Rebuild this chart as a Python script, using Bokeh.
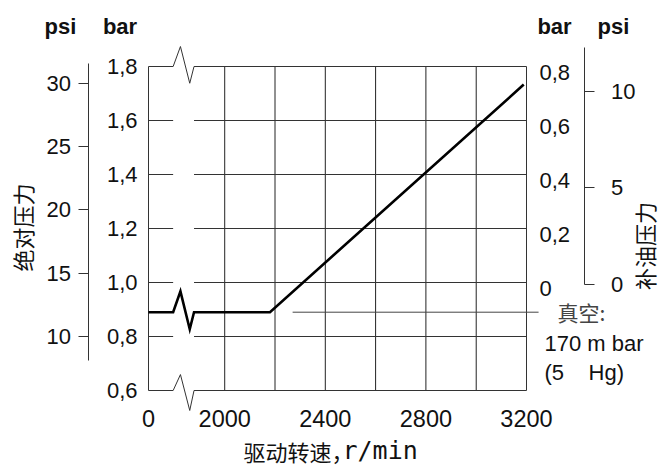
from math import pi
from bokeh.plotting import figure
from bokeh.models import (Range1d, LinearAxis, FixedTicker, Label,
                          CustomJSTickFormatter)
from bokeh.embed import file_html
from bokeh.resources import INLINE

# ---------------- data ----------------
X_ORIGIN = 1697                          # where "0" r/min sits on the broken speed axis
speed_rpm = [0, 2180, 3189]              # drive speed, r/min
abs_pressure_bar = [0.89, 0.89, 1.733]   # absolute pressure, bar

x_ticks = [0, 2000, 2400, 2800, 3200]
x_grid = [2000, 2200, 2400, 2600, 2800, 3000]
bar_ticks_left = [0.6, 0.8, 1.0, 1.2, 1.4, 1.6, 1.8]
bar_grid = [0.8, 1.0, 1.2, 1.4, 1.6]
psi_ticks_left = [10, 15, 20, 25, 30]
bar_ticks_right = [0, 0.2, 0.4, 0.6, 0.8]
psi_ticks_right = [0, 5, 10]
vacuum_bar = 0.89
BREAK_X = [1795, 1824, 1861, 1878]       # zig-zag of the axis break


def sx(v):
    return X_ORIGIN if v == 0 else v


# ---------------- geometry ----------------
W, H = 658, 465
K = 0.2515      # px per r/min
PPB = 270.0     # px per bar


def dx(px):
    return X_ORIGIN + (px - 148) / K


def dy(py):
    return 1.8 - (py - 66) / PPB


def psiL(py):
    return 30 - (py - 82.5) / 12.68


def barR(py):
    return (287.5 - py) / PPB


def psiR(py):
    return (284 - py) / 19.33


p = figure(width=W, height=H, x_range=Range1d(dx(0), dx(W)),
           y_range=Range1d(dy(H), dy(0)),
           x_axis_type=None, y_axis_type=None, toolbar_location=None,
           output_backend="svg", min_border=0)
p.outline_line_color = None
p.background_fill_color = "white"
p.border_fill_color = "white"

p.extra_y_ranges = {
    "psiL": Range1d(psiL(H), psiL(0)),
    "barR": Range1d(barR(H), barR(0)),
    "psiR": Range1d(psiR(H), psiR(0)),
}

FONT = "Liberation Sans"
CJK = "Noto Sans CJK SC"
FS = "22px"
GRID_C = "#222222"

# ---------------- grid & frame ----------------
x_lo, x_hi = sx(0), x_ticks[-1]
y_lo, y_hi = bar_ticks_left[0], bar_ticks_left[-1]
n = len(bar_grid)
p.segment(x0=x_grid, y0=[y_lo] * len(x_grid), x1=x_grid, y1=[y_hi] * len(x_grid),
          line_color=GRID_C, line_width=1)
p.segment(x0=[x_lo] * n, y0=bar_grid, x1=[BREAK_X[0]] * n, y1=bar_grid,
          line_color="#333333", line_width=1)
p.segment(x0=[BREAK_X[3]] * n, y0=bar_grid, x1=[x_hi] * n, y1=bar_grid,
          line_color="#333333", line_width=1)
p.segment(x0=[x_lo, x_hi], y0=[y_lo, y_lo], x1=[x_lo, x_hi], y1=[y_hi, y_hi],
          line_color="#333333", line_width=1)
p.line([x_lo] + BREAK_X + [x_hi], [y_hi, y_hi, y_hi + 0.074, y_hi - 0.062, y_hi, y_hi],
       line_color="#333333", line_width=1)
p.line([x_lo] + BREAK_X + [x_hi], [y_lo, y_lo, y_lo + 0.059, y_lo - 0.074, y_lo, y_lo],
       line_color="#333333", line_width=1)

# vacuum leader line
p.line([2270, 3248], [vacuum_bar, vacuum_bar], line_color="#444444", line_width=1)

# ---------------- data line (with break zig-zag) ----------------
y0 = abs_pressure_bar[0]
xs = [sx(speed_rpm[0])] + BREAK_X + [sx(v) for v in speed_rpm[1:]]
ys = [y0, y0, y0 + 0.077, y0 - 0.063, y0] + abs_pressure_bar[1:]
p.line(xs, ys, line_color="black", line_width=2.6, line_join="miter")


# ---------------- axes (fixed at the chart's box edges) ----------------
def style(ax, size=FS):
    ax.major_label_text_font = FONT
    ax.major_label_text_font_size = size
    ax.major_label_text_color = "#111111"
    ax.axis_line_color = "#333333"
    ax.major_tick_line_color = "#333333"
    ax.minor_tick_line_color = None
    ax.major_tick_in = 0


ax_barL = LinearAxis(ticker=FixedTicker(ticks=bar_ticks_left), fixed_location=x_lo,
                     formatter=CustomJSTickFormatter(code="return tick.toFixed(1).replace('.', ',')"))
style(ax_barL)
ax_barL.axis_line_color = None
ax_barL.major_tick_out = 0
ax_barL.major_label_standoff = 11
p.add_layout(ax_barL, "left")

ax_psiL = LinearAxis(y_range_name="psiL", bounds=(psiL(360), psiL(63.3)),
                     fixed_location=dx(87.5), ticker=FixedTicker(ticks=psi_ticks_left))
style(ax_psiL)
ax_psiL.major_tick_out = 10
ax_psiL.major_label_standoff = 7
p.add_layout(ax_psiL, "left")

ax_barR = LinearAxis(y_range_name="barR", ticker=FixedTicker(ticks=bar_ticks_right),
                     fixed_location=x_hi,
                     formatter=CustomJSTickFormatter(
                         code="return tick == 0 ? '0' : tick.toFixed(1).replace('.', ',')"))
style(ax_barR)
ax_barR.axis_line_color = None
ax_barR.major_tick_out = 0
ax_barR.major_label_standoff = 13
p.add_layout(ax_barR, "right")

ax_psiR = LinearAxis(y_range_name="psiR", bounds=(0, psiR(46.7)),
                     fixed_location=dx(583.5), ticker=FixedTicker(ticks=psi_ticks_right))
style(ax_psiR)
ax_psiR.major_tick_out = 10
ax_psiR.major_label_standoff = 17
ax_psiR.major_label_text_align = "center"
p.add_layout(ax_psiR, "right")

ax_x = LinearAxis(ticker=FixedTicker(ticks=[sx(v) for v in x_ticks]), fixed_location=y_lo,
                  major_label_overrides={sx(0): "0"})
style(ax_x, "23.5px")
ax_x.axis_line_color = None
ax_x.major_tick_out = 0
ax_x.major_label_standoff = 19
p.add_layout(ax_x, "below")


# ---------------- titles and notes ----------------
def lab(px, py, text, font=FONT, size=FS, align="center", baseline="middle",
        bold=False, angle=0, color="#111111"):
    p.add_layout(Label(x=dx(px), y=dy(py), text=text, text_font=font,
                       text_font_size=size, text_align=align, text_baseline=baseline,
                       text_font_style="bold" if bold else "normal", angle=angle,
                       text_color=color))


lab(60, 26, "psi", bold=True, baseline="alphabetic")
lab(119.5, 26, "bar", bold=True, baseline="alphabetic")
lab(554, 26, "bar", bold=True, baseline="alphabetic")
lab(613, 26, "psi", bold=True, baseline="alphabetic")

lab(21, 227, "绝对压力", font=CJK, angle=pi / 2)
lab(643, 245.5, "补油压力", font=CJK, angle=pi / 2)

lab(557, 311.7, "真空:", font=CJK, size="21px", align="left", color="#444444")
lab(544, 343, "170 m bar", align="left")
lab(544, 372, "(5\u00a0\u00a0\u00a0 Hg)", align="left")

lab(243, 450, "驱动转速，", font=CJK, align="left")
lab(342, 450, "r/min", font="DejaVu Sans Mono", size="25px", align="left")

open("out.html", "w").write(file_html(p, INLINE))
